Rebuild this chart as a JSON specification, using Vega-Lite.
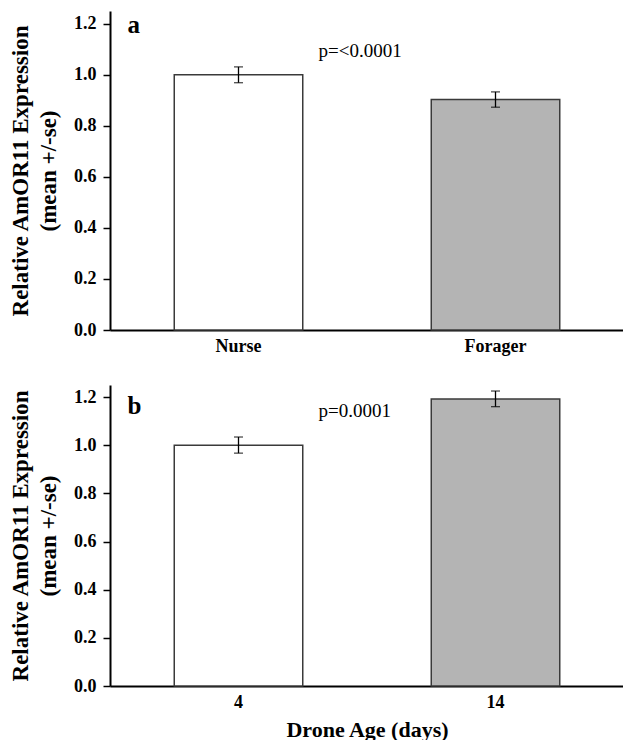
{
  "$schema": "https://vega.github.io/schema/vega-lite/v6.json",
  "padding": {"left": 9, "top": 11, "right": 0, "bottom": 0},
  "spacing": 30,
  "config": {
    "font": "Liberation Serif",
    "view": {"stroke": null},
    "axis": {
      "domainColor": "black", "domainWidth": 2,
      "tickColor": "black", "tickWidth": 1.5, "tickSize": 7,
      "labelFont": "Liberation Serif", "labelFontWeight": "bold", "labelColor": "black",
      "titleFont": "Liberation Serif", "titleFontWeight": "bold", "titleColor": "black",
      "grid": false
    },
    "axisY": {"labelFontSize": 18, "labelPadding": 7, "titleFontSize": 23, "titlePadding": 13, "titleLineHeight": 28},
    "axisX": {"labelFontSize": 18, "labelPadding": 7, "ticks": false, "labelAngle": 0, "titleFontSize": 22, "titlePadding": 8}
  },
  "vconcat": [
    {
      "width": 514,
      "height": 319,
      "data": {"values": [
        {"group": "Nurse", "mean": 1.0, "lo": 0.969, "hi": 1.031},
        {"group": "Forager", "mean": 0.903, "lo": 0.873, "hi": 0.933}
      ]},
      "encoding": {
        "x": {"field": "group", "type": "nominal", "sort": ["Nurse", "Forager"],
              "scale": {"paddingInner": 0.5, "paddingOuter": 0.25},
              "axis": {"title": null}}
      },
      "layer": [
        {
          "mark": {"type": "bar", "stroke": "#3a3a3a", "strokeWidth": 1.5},
          "encoding": {
            "y": {"field": "mean", "type": "quantitative", "scale": {"domain": [0, 1.25], "nice": false},
                  "axis": {"values": [0, 0.2, 0.4, 0.6, 0.8, 1.0, 1.2], "format": ".1f",
                           "title": ["Relative AmOR11 Expression", "(mean +/-se)"]}},
            "fill": {"field": "group", "type": "nominal",
                     "scale": {"domain": ["Nurse", "Forager"], "range": ["white", "#b4b4b4"]},
                     "legend": null}
          }
        },
        {
          "mark": {"type": "rule", "color": "black", "strokeWidth": 1.3},
          "encoding": {"y": {"field": "lo", "type": "quantitative"}, "y2": {"field": "hi"}}
        },
        {
          "mark": {"type": "tick", "color": "black", "size": 9, "thickness": 1.3},
          "encoding": {"y": {"field": "lo", "type": "quantitative"}}
        },
        {
          "mark": {"type": "tick", "color": "black", "size": 9, "thickness": 1.3},
          "encoding": {"y": {"field": "hi", "type": "quantitative"}}
        },
        {
          "data": {"values": [{"group": "Nurse", "ypos": 1.165, "label": "a"}]},
          "mark": {"type": "text", "align": "left", "baseline": "alphabetic", "dx": -111,
                   "fontSize": 25, "fontWeight": "bold", "color": "black"},
          "encoding": {"y": {"field": "ypos", "type": "quantitative"}, "text": {"field": "label"}}
        },
        {
          "data": {"values": [{"group": "Nurse", "ypos": 1.069, "label": "p=<0.0001"}]},
          "mark": {"type": "text", "align": "left", "baseline": "alphabetic", "dx": 80,
                   "fontSize": 19, "color": "black"},
          "encoding": {"y": {"field": "ypos", "type": "quantitative"}, "text": {"field": "label"}}
        }
      ]
    },
    {
      "width": 514,
      "height": 301,
      "data": {"values": [
        {"group": "4", "mean": 1.0, "lo": 0.967, "hi": 1.034},
        {"group": "14", "mean": 1.192, "lo": 1.16, "hi": 1.225}
      ]},
      "encoding": {
        "x": {"field": "group", "type": "nominal", "sort": ["4", "14"],
              "scale": {"paddingInner": 0.5, "paddingOuter": 0.25},
              "axis": {"title": "Drone Age (days)"}}
      },
      "layer": [
        {
          "mark": {"type": "bar", "stroke": "#3a3a3a", "strokeWidth": 1.5},
          "encoding": {
            "y": {"field": "mean", "type": "quantitative", "scale": {"domain": [0, 1.25], "nice": false},
                  "axis": {"values": [0, 0.2, 0.4, 0.6, 0.8, 1.0, 1.2], "format": ".1f",
                           "title": ["Relative AmOR11 Expression", "(mean +/-se)"]}},
            "fill": {"field": "group", "type": "nominal",
                     "scale": {"domain": ["4", "14"], "range": ["white", "#b4b4b4"]},
                     "legend": null}
          }
        },
        {
          "mark": {"type": "rule", "color": "black", "strokeWidth": 1.3},
          "encoding": {"y": {"field": "lo", "type": "quantitative"}, "y2": {"field": "hi"}}
        },
        {
          "mark": {"type": "tick", "color": "black", "size": 9, "thickness": 1.3},
          "encoding": {"y": {"field": "lo", "type": "quantitative"}}
        },
        {
          "mark": {"type": "tick", "color": "black", "size": 9, "thickness": 1.3},
          "encoding": {"y": {"field": "hi", "type": "quantitative"}}
        },
        {
          "data": {"values": [{"group": "4", "ypos": 1.128, "label": "b"}]},
          "mark": {"type": "text", "align": "left", "baseline": "alphabetic", "dx": -111,
                   "fontSize": 25, "fontWeight": "bold", "color": "black"},
          "encoding": {"y": {"field": "ypos", "type": "quantitative"}, "text": {"field": "label"}}
        },
        {
          "data": {"values": [{"group": "4", "ypos": 1.118, "label": "p=0.0001"}]},
          "mark": {"type": "text", "align": "left", "baseline": "alphabetic", "dx": 80,
                   "fontSize": 19, "color": "black"},
          "encoding": {"y": {"field": "ypos", "type": "quantitative"}, "text": {"field": "label"}}
        }
      ]
    }
  ]
}
